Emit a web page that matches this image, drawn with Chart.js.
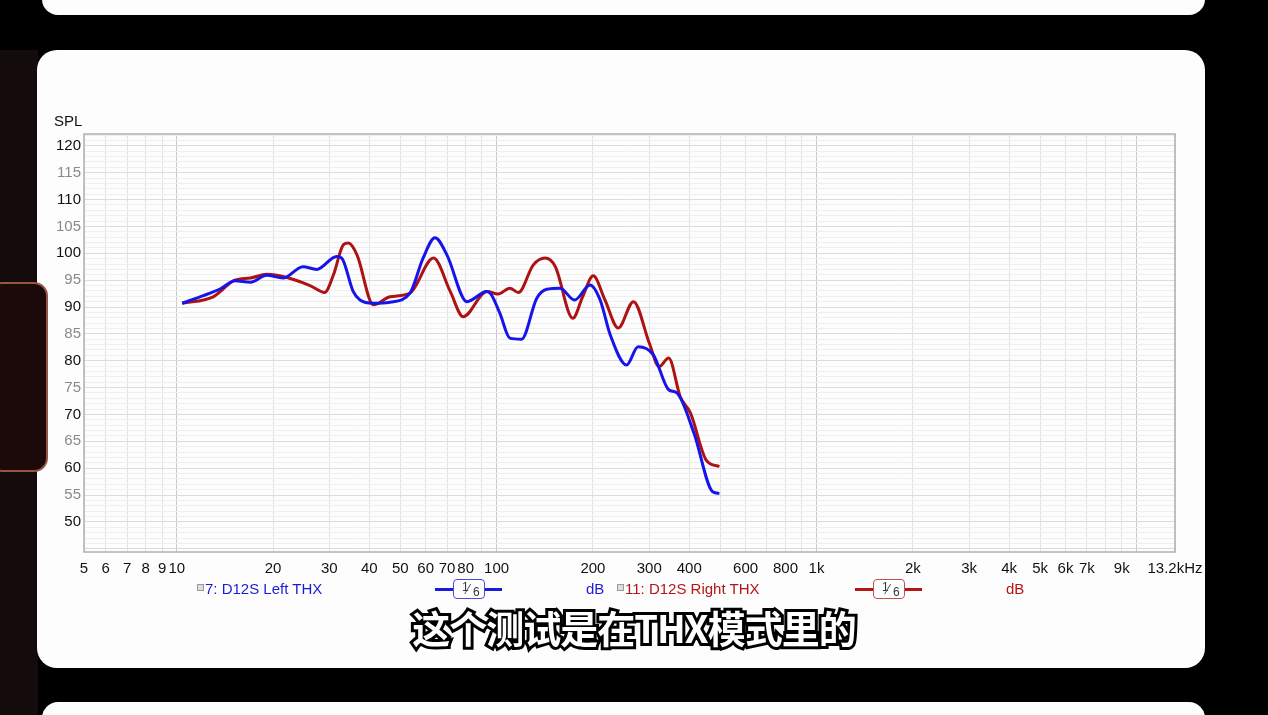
<!DOCTYPE html>
<html>
<head>
<meta charset="utf-8">
<script src="https://cdn.jsdelivr.net/npm/chart.js@4.4.0/dist/chart.umd.min.js"></script>
<style>
  html, body { margin: 0; padding: 0; }
  body { width: 1268px; height: 715px; background: #000; position: relative; overflow: hidden;
         font-family: "Liberation Sans", Arial, sans-serif; }
  .paper { position: absolute; background: #fdfdfd; }
  #topband { left: 42px; top: -20px; width: 1163px; height: 35px; border-radius: 0 0 16px 16px; }
  #panel { left: 37px; top: 50px; width: 1168px; height: 618px; border-radius: 20px; }
  #botband { left: 42px; top: 702px; width: 1163px; height: 30px; border-radius: 16px 16px 0 0; }
  #leftstrip { position: absolute; left: 0; top: 50px; width: 38px; height: 665px; background: #140c0c; }
  #lefttab { position: absolute; left: -12px; top: 282px; width: 56px; height: 186px; background: #1c0909;
             border: 2px solid #9a5444; border-radius: 14px; }
  #chartbox { position: absolute; left: 0; top: 0; }
  .t { position: absolute; white-space: nowrap; font-size: 15px; line-height: 16px; }
  .blue { color: #1c1cd8; }
  .red { color: #b31616; }
  .chk { position: absolute; width: 5px; height: 5px; border: 1px solid #999; background: #ddd; }
  .leg { position: absolute; height: 3px; }
  .frac { position: absolute; width: 30px; height: 18px; background: #fff; border-radius: 4px; font-size: 12px; }
  .frac span { position: absolute; }
  #sub { position: absolute; left: 0; width: 1268px; top: 599px; text-align: center; font-size: 38px;
         font-family: "Noto Sans CJK SC", sans-serif; font-weight: 700; color: #fff;
         -webkit-text-stroke: 6px #000; paint-order: stroke fill; letter-spacing: -1px; }
</style>
</head>
<body>
<div id="leftstrip"></div>
<div class="paper" id="topband"></div>
<div class="paper" id="panel"></div>
<div class="paper" id="botband"></div>
<div id="lefttab"></div>
<div id="chartbox"><canvas id="myChart" width="1268" height="715"></canvas></div>

<div class="t" style="left:54px; top:113px; color:#111;">SPL</div>

<div class="chk" style="left:197px; top:584px;"></div>
<div class="t blue" style="left:205px; top:581px;">7: D12S Left THX</div>
<div class="leg" style="left:435px; top:588px; width:67px; background:#1c1cd8;"></div>
<div class="frac" style="left:453px; top:579px; border:1px solid #4a4ad8;"><span style="left:8px;top:0px;color:#333;">1</span><span style="left:13px;top:1px;color:#555;font-size:14px;">&#8260;</span><span style="left:19px;top:5px;color:#333;">6</span></div>
<div class="t blue" style="left:586px; top:581px;">dB</div>

<div class="chk" style="left:617px; top:584px;"></div>
<div class="t red" style="left:625px; top:581px;">11: D12S Right THX</div>
<div class="leg" style="left:855px; top:588px; width:67px; background:#b31616;"></div>
<div class="frac" style="left:873px; top:579px; border:1px solid #c05050;"><span style="left:8px;top:0px;color:#333;">1</span><span style="left:13px;top:1px;color:#555;font-size:14px;">&#8260;</span><span style="left:19px;top:5px;color:#333;">6</span></div>
<div class="t red" style="left:1006px; top:581px;">dB</div>

<div id="sub">这个测试是在THX模式里的</div>

<script>
// frequency response (Hz / dB SPL)
const leftFreq = [10.4, 12.1, 13.7, 15.2, 17.0, 19.1, 21.5, 24.8, 27.4, 31.6, 32.8, 35.6, 37.4, 41.2, 46.4, 53.6, 58.9, 64.2, 69.9, 80.8, 93.2, 96, 102.4, 110, 119.6, 133.4, 143.4, 157.7, 175.3, 195.9, 210.7, 226.6, 254.8, 276.8, 309, 345, 366, 414, 473.5, 497];
const leftSpl  = [90.7, 92.1, 93.4, 94.9, 94.6, 95.9, 95.4, 97.5, 97.0, 99.4, 99.1, 92.9, 91.3, 90.7, 90.9, 92.6, 99.1, 102.9, 99.7, 91.0, 92.9, 92.4, 88.8, 84.2, 84.0, 91.6, 93.3, 93.5, 91.3, 94.1, 91.3, 84.8, 79.2, 82.6, 81.1, 74.6, 74.0, 66.5, 55.6, 55.3];

const rightFreq = [10.4, 13.0, 15.2, 17.0, 19.1, 22.1, 26.1, 29.0, 30.9, 33.2, 34.4, 36.6, 41.2, 46.4, 53.6, 63.5, 71.6, 78.6, 93.2, 101, 110, 117, 130.1, 141.8, 152.6, 173, 186, 200.4, 218.1, 240, 267.7, 300, 322, 345, 375, 404, 452, 497];
const rightSpl  = [90.7, 91.9, 95.0, 95.4, 96.1, 95.5, 94.0, 92.7, 96.0, 101.6, 101.9, 99.7, 90.4, 91.9, 92.6, 99.1, 92.9, 88.2, 92.9, 92.4, 93.5, 92.7, 97.8, 99.1, 97.5, 87.9, 92.0, 95.8, 91.3, 86.1, 91.0, 83.3, 78.9, 80.5, 73.3, 70.2, 61.5, 60.3];

const xTickValues = [5, 6, 7, 8, 9, 10, 20, 30, 40, 50, 60, 70, 80, 90, 100, 200, 300, 400, 500, 600, 700, 800, 900, 1000, 2000, 3000, 4000, 5000, 6000, 7000, 8000, 9000, 10000, 13200];
const xTickLabels = ['5', '6', '7', '8', '9', '10', '20', '30', '40', '50', '60', '70', '80', '', '100', '200', '300', '400', '', '600', '', '800', '', '1k', '2k', '3k', '4k', '5k', '6k', '7k', '', '9k', '', '13.2kHz'];
const yLabelValues = [50, 55, 60, 65, 70, 75, 80, 85, 90, 95, 100, 105, 110, 115, 120];

const X_MIN = 5.13, X_MAX = 13200, Y_MIN = 44.4, Y_MAX = 122.2;
const BLUE = "rgb(20, 20, 235)";
const RED = "rgb(175, 18, 18)";

const frame = {
	id: "frame",
	beforeDatasetsDraw(chart) {
		const a = chart.chartArea;
		const c = chart.ctx;
		c.save();
		c.strokeStyle = "#b0b0b0";
		c.lineWidth = 1.5;
		c.strokeRect(a.left, a.top, a.right - a.left, a.bottom - a.top);
		c.restore();
	},
};

function isDecade(v) {
	const l = Math.log10(v);
	return Math.abs(l - Math.round(l)) < 1e-6;
}

const ctx = document.getElementById("myChart").getContext("2d");
new Chart(ctx, {
	type: "line",
	data: {
		datasets: [
			{
				label: "7: D12S Left THX",
				data: leftFreq.map((f, i) => ({ x: f, y: leftSpl[i] })),
				borderColor: BLUE,
				borderWidth: 3,
				pointRadius: 0,
				cubicInterpolationMode: "monotone",
				fill: false,
			},
			{
				label: "11: D12S Right THX",
				data: rightFreq.map((f, i) => ({ x: f, y: rightSpl[i] })),
				borderColor: RED,
				borderWidth: 3,
				pointRadius: 0,
				cubicInterpolationMode: "monotone",
				fill: false,
			},
		],
	},
	options: {
		responsive: false,
		animation: false,
		devicePixelRatio: 1,
		layout: { padding: { left: 44, top: 134, right: 93, bottom: 133 } },
		plugins: { legend: { display: false }, tooltip: { enabled: false } },
		scales: {
			x: {
				type: "logarithmic",
				min: X_MIN,
				max: X_MAX,
				afterBuildTicks: (s) => {
					s.ticks = xTickValues.map((v) => ({ value: Math.max(v, X_MIN) }));
				},
				afterFit: (s) => { s.height = 30; },
				grid: {
					drawTicks: false,
					lineWidth: 1,
					color: (c) => (c.tick && isDecade(c.tick.value) ? "#c9c9c9" : "#e3e3e3"),
				},
				border: { display: false },
				ticks: {
					autoSkip: false,
					maxRotation: 0,
					padding: 8,
					color: "#111",
					font: { family: "Liberation Sans", size: 15 },
					callback: (v, i) => xTickLabels[i],
				},
			},
			y: {
				type: "linear",
				min: Y_MIN,
				max: Y_MAX,
				afterBuildTicks: (s) => {
					const t = [];
					for (let v = 45; v <= 122; v++) t.push({ value: v });
					s.ticks = t;
				},
				afterFit: (s) => { s.width = 40; },
				grid: {
					drawTicks: false,
					lineWidth: 1,
					color: (c) => (c.tick && c.tick.value % 5 === 0 ? "#dcdcdc" : "#efefef"),
				},
				border: { display: false },
				ticks: {
					autoSkip: false,
					padding: 3,
					font: { family: "Liberation Sans", size: 15 },
					color: (c) => (c.tick && c.tick.value % 10 === 0 ? "#111" : "#8a8a8a"),
					callback: (v) => (yLabelValues.includes(v) ? String(v) : ""),
				},
			},
		},
	},
	plugins: [frame],
});
</script>
</body>
</html>
